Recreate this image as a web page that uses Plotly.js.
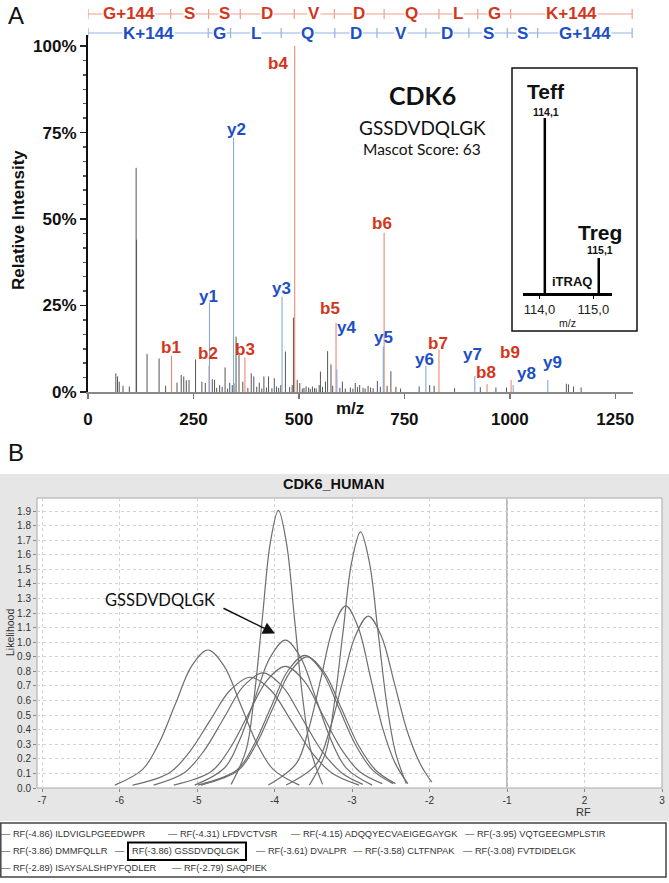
<!DOCTYPE html>
<html><head><meta charset="utf-8">
<script src="https://cdn.plot.ly/plotly-3.0.1.min.js"></script>
<style>html,body{margin:0;padding:0;background:#fff;}#chart{width:669px;height:883px;}</style>
</head><body><div id="chart"></div>
<script>
// ================= Panel A data =================
const grayMz  = [66,70,74,83,98,114.1,115.1,140,168.5,184,211,221,227,233,239.5,255,270,278,294.6,300,305,312,318,325,331,336,342,346,351,358,367,379,387,393,400,406,412,417,423,428,436,441.6,447,452,457,468,478,484,487,496,502,508,512,517,523,527,532,537,541,548,551,556,563,568,576,580,597,603,610,622,628,633.6,639,644,652,657,664,670,676,686,693,709,718,730,741,785,810,820.5,869,930,967,992,1134,1139,1151,1169];
const grayInt = [5.4,4.5,3,1.8,1.6,64.8,44,11,9.7,1.8,2.7,4.9,4.5,3.4,3.5,9.4,3,2.6,3.7,3.5,1.2,2,1.5,7.1,1.0,2.7,2,2.5,16,10.9,3,1.2,5.4,4.5,1.5,2.7,1.0,4.5,1.3,4.5,1.1,4,1.6,1.2,2,11.7,1.4,2.0,21.5,3.5,2.6,1.0,1.2,1.6,1.3,0.9,1.6,1.1,1.0,2,5.9,1.5,3,11.8,8,1.8,1.2,3,1.0,1.3,1.0,2.6,1.4,2,1.2,1.0,1.8,1.3,1.1,3.2,1.5,1.8,6,1.5,1.0,1.6,2,1.8,1.1,1.4,1.3,1.3,2.4,2.2,1.6,1.3];
const bIons = ['b1','b2','b3','b4','b5','b6','b7','b8','b9'];
const bMz   = [198,287,372,490,588,702,832,946,1003];
const bInt  = [10.5,7.6,10,100,20,46,12.3,2.3,3.5];
const yIons = ['y1','y2','y3','y4','y5','y6','y7','y8','y9'];
const yMz   = [288,345,460,590,700,801,917,1008,1090];
const yInt  = [25.8,73.5,27.5,6.5,13,7.5,4.6,2,3.5];
const nTermResidues = ['G+144','S','S','D','V','D','Q','L','G','K+144'];
const nTermTicks    = [0,196,286,361,489,584,702,832,924,1002,1290];
const cTermResidues = ['K+144','G','L','Q','D','V','D','S','S','G+144'];
const cTermTicks    = [0,285,338,458,585,685,801,903,994,1066,1290];
const spectrumTicks = [0,250,500,750,1000,1250];
const intensityTicks = [0,25,50,75,100];
const reporterNames = ['Teff','Treg'];
const reporterMz  = [114.1,115.1];
const reporterInt = [100,20];
const reporterTicks = [114.0,115.0];
const reporterTickText = ['114,0','115,0'];

// ================= Panel B data =================
const peptides = ['ILDVIGLPGEEDWPR','LFDVCTVSR','ADQQYECVAEIGEGAYGK','VQTGEEGMPLSTIR','DMMFQLLR','GSSDVDQLGK','DVALPR','CLTFNPAK','FVTDIDELGK','ISAYSALSHPYFQDLER','SAQPIEK'];
const rfValues = [-4.86,-4.31,-4.15,-3.95,-3.86,-3.86,-3.61,-3.58,-3.08,-2.89,-2.79];
const c1_rf = [-6.06,-5.702,-5.492,-5.281,-5.07,-4.86,-4.65,-4.439,-4.229,-4.018,-3.68];
const c1_lh = [0.02,0.128,0.307,0.574,0.836,0.947,0.836,0.574,0.307,0.128,0.02];
const c2_rf = [-5.83,-5.36,-5.098,-4.835,-4.573,-4.31,-4.048,-3.785,-3.523,-3.26,-2.91];
const c2_lh = [0.02,0.103,0.247,0.461,0.671,0.76,0.671,0.461,0.247,0.103,0.02];
const c3_rf = [-5.56,-5.16,-4.908,-4.655,-4.403,-4.15,-3.898,-3.645,-3.393,-3.14,-2.86];
const c3_lh = [0.02,0.107,0.257,0.479,0.697,0.79,0.697,0.479,0.257,0.107,0.025];
const c4_rf = [-4.56,-4.368,-4.264,-4.159,-4.055,-3.95,-3.846,-3.741,-3.637,-3.532,-3.38];
const c4_lh = [0.025,0.258,0.619,1.155,1.681,1.905,1.681,1.155,0.619,0.258,0.025];
const c5_rf = [-5.30,-4.816,-4.577,-4.338,-4.099,-3.86,-3.621,-3.382,-3.143,-2.904,-2.61];
const c5_lh = [0.02,0.113,0.271,0.506,0.737,0.835,0.737,0.506,0.271,0.113,0.03];
const c6_rf = [-5.03,-4.646,-4.45,-4.253,-4.057,-3.86,-3.664,-3.467,-3.271,-3.074,-2.74];
const c6_lh = [0.02,0.137,0.33,0.616,0.896,1.015,0.896,0.616,0.33,0.137,0.02];
const c7_rf = [-4.99,-4.486,-4.267,-4.048,-3.829,-3.61,-3.391,-3.172,-2.953,-2.734,-2.47];
const c7_lh = [0.02,0.123,0.295,0.552,0.803,0.91,0.803,0.552,0.295,0.123,0.03];
const c8_rf = [-4.95,-4.466,-4.245,-4.023,-3.802,-3.58,-3.359,-3.137,-2.916,-2.694,-2.44];
const c8_lh = [0.02,0.122,0.292,0.546,0.794,0.90,0.794,0.546,0.292,0.122,0.03];
const c9_rf = [-4.08,-3.718,-3.559,-3.399,-3.24,-3.08,-2.921,-2.761,-2.602,-2.442,-2.28];
const c9_lh = [0.02,0.169,0.406,0.758,1.103,1.25,1.103,0.758,0.406,0.169,0.03];
const c10_rf = [-3.55,-3.344,-3.231,-3.117,-3.004,-2.89,-2.777,-2.663,-2.55,-2.436,-2.30];
const c10_lh = [0.02,0.238,0.571,1.066,1.551,1.757,1.551,1.066,0.571,0.238,0.03];
const c11_rf = [-3.85,-3.466,-3.297,-3.128,-2.959,-2.79,-2.621,-2.452,-2.283,-2.114,-1.97];
const c11_lh = [0.02,0.16,0.383,0.716,1.041,1.18,1.041,0.716,0.383,0.16,0.04];
const rfTickVals = [-7,-6,-5,-4,-3,-2,-1,0,1];
const rfTickText = ['-7','-6','-5','-4','-3','-2','-1','2','3'];
const highlightedPeptide = 'GSSDVDQLGK';

// ================= layout helpers =================
const W = 669, H = 883;
const fx = px => px / W;
const fy = py => 1 - py / H;
const ARIAL = 'Arial, "Liberation Sans", sans-serif';
const CAL = 'Lato, "Open Sans", sans-serif';
const RED = '#d4361b', BLUE = '#1d4fc4';

function stems(mz, it) {
  const x = [], y = [];
  mz.forEach((m, i) => { x.push(m, m, null); y.push(0, it[i], null); });
  return {x, y};
}

const traces = [];
const g = stems(grayMz, grayInt);
traces.push({x:g.x, y:g.y, mode:'lines', line:{color:'#555', width:1}, xaxis:'x', yaxis:'y', hoverinfo:'skip'});
const bs = stems(bMz, bInt);
traces.push({x:bs.x, y:bs.y, mode:'lines', line:{color:'#e88a76', width:1.1}, xaxis:'x', yaxis:'y', hoverinfo:'skip'});
const ys = stems(yMz, yInt);
traces.push({x:ys.x, y:ys.y, mode:'lines', line:{color:'#86a7dc', width:1.1}, xaxis:'x', yaxis:'y', hoverinfo:'skip'});
const rs = stems(reporterMz, reporterInt);
traces.push({x:rs.x, y:rs.y, mode:'lines', line:{color:'#000', width:2.5}, xaxis:'x3', yaxis:'y3', hoverinfo:'skip'});

const curves = [[c1_rf,c1_lh],[c2_rf,c2_lh],[c3_rf,c3_lh],[c4_rf,c4_lh],[c5_rf,c5_lh],[c6_rf,c6_lh],[c7_rf,c7_lh],[c8_rf,c8_lh],[c9_rf,c9_lh],[c10_rf,c10_lh],[c11_rf,c11_lh]];
curves.forEach((c, i) => traces.push({x:c[0], y:c[1], mode:'lines', line:{color:'#6e6e6e', width:1.2, shape:'spline', smoothing:1}, xaxis:'x2', yaxis:'y2', name:peptides[i], hoverinfo:'skip'}));

const shapes = [];
const annotations = [];

shapes.push({type:'rect', xref:'paper', yref:'paper', x0:fx(0), x1:fx(669), y0:fy(821), y1:fy(474), fillcolor:'#e6e6e6', line:{width:0}, layer:'below'});
shapes.push({type:'rect', xref:'paper', yref:'paper', x0:fx(37), x1:fx(662), y0:fy(788), y1:fy(498), fillcolor:'#ffffff', line:{color:'#a8a8a8', width:1}, layer:'below'});
shapes.push({type:'line', xref:'x2', yref:'y2 domain', x0:-1, x1:-1, y0:0, y1:1, line:{color:'#bdbdbd', width:2}, layer:'below'});
shapes.push({type:'rect', xref:'paper', yref:'paper', x0:fx(0.8), x1:fx(666), y0:fy(877), y1:fy(823), fillcolor:'#ffffff', line:{color:'#444', width:1.5}});
shapes.push({type:'rect', xref:'paper', yref:'paper', x0:fx(512), x1:fx(637), y0:fy(331), y1:fy(68), line:{color:'#111', width:1.5}});

function headerRow(ticks, residues, py, lineColor, textColor) {
  for (let i = 0; i < ticks.length - 1; i++) {
    shapes.push({type:'line', xref:'x', yref:'paper', x0:ticks[i], x1:ticks[i+1], y0:fy(py), y1:fy(py), line:{color:lineColor, width:1.2}});
    annotations.push({xref:'x', yref:'paper', x:(ticks[i]+ticks[i+1])/2, y:fy(py), text:residues[i], showarrow:false,
      font:{family:ARIAL, size:17, color:textColor, weight:'bold'}, bgcolor:'#ffffff', borderpad:0, xanchor:'center', yanchor:'middle'});
  }
  ticks.forEach(t => shapes.push({type:'line', xref:'x', yref:'paper', x0:t, x1:t, y0:fy(py-5), y1:fy(py+5), line:{color:lineColor, width:1.2}}));
}
headerRow(nTermTicks, nTermResidues, 14, '#eba08f', RED);
headerRow(cTermTicks, cTermResidues, 33, '#94b3e4', BLUE);

const labelShift = {b1:[-1,8],b2:[-1,12],b3:[0,8],b4:[-17,-17],b5:[-6,14],b6:[-2,9],b7:[-1,6],b8:[-1,12],b9:[-1.5,27],
                    y1:[-1,6],y2:[3,8],y3:[-1,8],y4:[10,42],y5:[0,10],y6:[-1,7],y7:[-2,22],y8:[13,12],y9:[5,17]};
function ionLabels(names, mz, it, color) {
  names.forEach((n, i) => annotations.push({xref:'x', yref:'y', x:mz[i], y:it[i], text:n, showarrow:false,
    xshift:labelShift[n][0], yshift:labelShift[n][1], xanchor:'center', yanchor:'middle',
    font:{family:ARIAL, size:17, color:color, weight:'bold'}}));
}
ionLabels(bIons, bMz, bInt, RED);
ionLabels(yIons, yMz, yInt, BLUE);

function txt(px, py, text, font, opts={}) {
  annotations.push(Object.assign({xref:'paper', yref:'paper', x:fx(px), y:fy(py), text:text, showarrow:false,
    xanchor:'center', yanchor:'middle', font:font}, opts));
}
txt(16, 16, 'A', {family:ARIAL, size:24, color:'#111'});
txt(16, 452, 'B', {family:ARIAL, size:24, color:'#111'});
txt(18, 220, 'Relative Intensity', {family:ARIAL, size:17, color:'#111', weight:'bold'}, {textangle:-90});
txt(350, 408, 'm/z', {family:ARIAL, size:17, color:'#111', weight:'bold'});
txt(422, 95, 'CDK6', {family:CAL, size:25, color:'#111', weight:'bold'});
txt(422, 127, 'GSSDVDQLGK', {family:CAL, size:19, color:'#111'});
txt(422, 149, 'Mascot Score: 63', {family:CAL, size:15.5, color:'#111'});
txt(546, 92, reporterNames[0], {family:ARIAL, size:21, color:'#111', weight:'bold'});
txt(546, 112, reporterMz[0].toFixed(1).replace('.', ','), {family:ARIAL, size:10.5, color:'#111', weight:'bold'});
txt(600, 232, reporterNames[1], {family:ARIAL, size:21, color:'#111', weight:'bold'});
txt(600, 250, reporterMz[1].toFixed(1).replace('.', ','), {family:ARIAL, size:10.5, color:'#111', weight:'bold'});
txt(572, 281, 'iTRAQ', {family:ARIAL, size:13, color:'#111', weight:'bold'});
txt(567.5, 323, 'm/z', {family:ARIAL, size:10.5, color:'#222'});

txt(334, 484, 'CDK6_HUMAN', {family:ARIAL, size:14.5, color:'#111', weight:'bold'});
txt(10, 633, 'Likelihood', {family:ARIAL, size:10.5, color:'#333'}, {textangle:-90});
txt(583, 812, 'RF', {family:ARIAL, size:11, color:'#333'});
annotations.push({xref:'x2', yref:'y2', x:-5.477, y:1.29, text:highlightedPeptide, showarrow:false,
  font:{family:CAL, size:16.5, color:'#111'}, xanchor:'center', yanchor:'middle'});
annotations.push({xref:'x2', yref:'y2', x:-3.994, y:1.06, text:'', showarrow:true, ax:-53, ay:-26,
  arrowhead:2, arrowsize:1.6, arrowwidth:1.5, arrowcolor:'#111', standoff:0});

// legend drawn as text rows (slot positions in px)
const legendSlots = [[0,834],[167,834],[290,834],[464,834],[0,851],[114,851],[255,851],[352,851],[462,851],[0,868],[171,868]];
peptides.forEach((p, i) => {
  const s = legendSlots[i];
  const hi = (p === highlightedPeptide);
  const label = (hi ? '—   ' : '— ') + 'RF(' + rfValues[i].toFixed(2) + ') ' + p;
  annotations.push({xref:'paper', yref:'paper', x:fx(s[0]), y:fy(s[1]), text:label, showarrow:false, xanchor:'left', yanchor:'middle',
    font:{family:ARIAL, size:9.3, color:'#333'}, borderpad:0});
  if (hi) {
    shapes.push({type:'rect', xref:'paper', yref:'paper', x0:fx(s[0]+14), x1:fx(s[0]+132), y0:fy(s[1]+9), y1:fy(s[1]-8.5), line:{color:'#000', width:2}});
  }
});

const layout = {
  width: W, height: H,
  margin: {l:0, r:0, t:0, b:0},
  paper_bgcolor: '#ffffff', plot_bgcolor: 'rgba(0,0,0,0)',
  showlegend: false,
  xaxis: {domain:[fx(88), fx(633)], range:[0,1292], anchor:'y', tickmode:'array', tickvals:spectrumTicks,
    ticks:'outside', ticklen:5, tickwidth:1.5, tickcolor:'#777', showline:true, linecolor:'#888', linewidth:1.5,
    showgrid:false, zeroline:false, ticklabelstandoff:6, tickfont:{family:ARIAL, size:17, color:'#111', weight:'bold'}},
  yaxis: {domain:[fy(392), fy(35)], range:[0,103.2], anchor:'x', tickmode:'array', tickvals:intensityTicks,
    ticktext:intensityTicks.map(v => v + '%'), ticks:'outside', ticklen:6, tickwidth:1.5, tickcolor:'#222',
    showline:true, linecolor:'#111', linewidth:2, showgrid:false, zeroline:false,
    minor:{tick0:0, dtick:25/6, ticks:'outside', ticklen:3, tickcolor:'#555', showgrid:false},
    tickfont:{family:ARIAL, size:17, color:'#111', weight:'bold'}},
  xaxis2: {domain:[fx(37), fx(662)], range:[-7.065, 1.0], anchor:'y2', tickmode:'array', tickvals:rfTickVals, ticktext:rfTickText,
    ticks:'outside', ticklen:3, tickcolor:'#888', showline:false, zeroline:false, showgrid:true, gridcolor:'#d2d2d2', griddash:'dot', gridwidth:1,
    tickfont:{family:ARIAL, size:10, color:'#333'}},
  yaxis2: {domain:[fy(788), fy(498)], range:[0,1.99], anchor:'x2', tick0:0, dtick:0.1, tickformat:'.1f',
    ticks:'outside', ticklen:3, tickcolor:'#888', showline:false, zeroline:false, showgrid:true, gridcolor:'#d2d2d2', griddash:'dot', gridwidth:1,
    tickfont:{family:ARIAL, size:10, color:'#333'}},
  xaxis3: {domain:[fx(522.7), fx(611.7)], range:[113.69,115.34], anchor:'y3', tickmode:'array', tickvals:reporterTicks, ticktext:reporterTickText,
    ticks:'outside', ticklen:3, tickwidth:1.5, tickcolor:'#000', showline:true, linecolor:'#000', linewidth:2.5, showgrid:false, zeroline:false,
    tickfont:{family:ARIAL, size:13, color:'#222'}},
  yaxis3: {domain:[fy(293), fy(118)], range:[0,100], anchor:'x3', visible:false, showgrid:false, zeroline:false},
  shapes: shapes,
  annotations: annotations
};

Plotly.newPlot('chart', traces, layout, {staticPlot:true, displayModeBar:false});
</script>
</body></html>
